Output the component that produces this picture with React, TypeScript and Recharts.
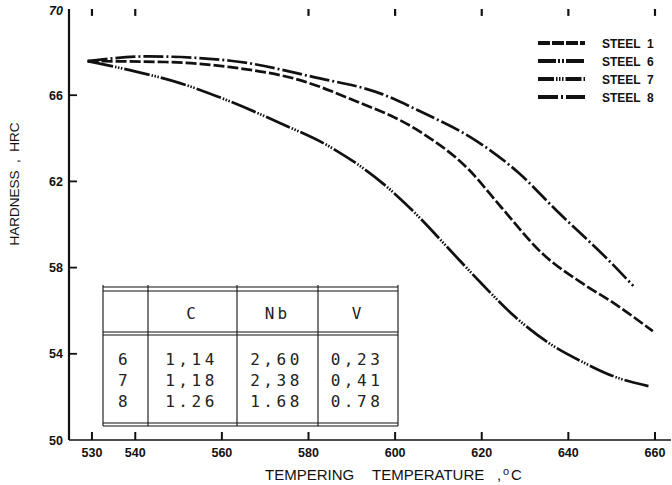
import React from 'react';
import { LineChart, Line, XAxis, YAxis, Legend, ReferenceLine } from 'recharts';

// values
const steel8Temp = [529, 543, 562, 581, 597, 606, 619, 628.5, 637.5, 649, 655];
const steel8Hrc = [67.58, 67.8, 67.6, 66.85, 66.05, 65.23, 63.85, 62.4, 60.6, 58.4, 57.15];

const steel1Temp = [529, 547, 562, 578, 590, 605, 617, 624.5, 634, 643, 650.5, 659.5];
const steel1Hrc = [67.58, 67.54, 67.3, 66.7, 65.8, 64.4, 62.55, 60.8, 58.65, 57.3, 56.35, 55.05];

const steel7Temp = [529, 539, 550.5, 562, 573.5, 585, 597.5, 605.5, 612.5, 620, 627.5, 635.5, 643, 650.5, 658.5];
const steel7Hrc = [67.58, 67.15, 66.55, 65.7, 64.7, 63.6, 61.85, 60.35, 58.85, 57.25, 55.75, 54.5, 53.65, 52.95, 52.5];

const xTicks = [530, 540, 560, 580, 600, 620, 640, 660];
const topTicks = [530, 540, 580, 600, 620, 640, 660];
const yTicks = [50, 54, 58, 62, 66, 70];
const yInnerTicks = [54, 58, 62, 66];

const legendNames = ['STEEL  1', 'STEEL  6', 'STEEL  7', 'STEEL  8'];
const legendDashes = ['12 2', '18 2 2 2 2 2', '16 2 1.5 1.5 1.5 1.5 1.5 2', '20 3 2 3'];

const tableHeader = ['', 'C', 'Nb', 'V'];
const tableRows = [
  ['6', '1,14', '2,60', '0,23'],
  ['7', '1,18', '2,38', '0,41'],
  ['8', '1.26', '1.68', '0.78'],
];

const toPoints = (temps: number[], vals: number[]) => temps.map((t, i) => ({ t, hrc: vals[i] }));
const steel8 = toPoints(steel8Temp, steel8Hrc);
const steel1 = toPoints(steel1Temp, steel1Hrc);
const steel7 = toPoints(steel7Temp, steel7Hrc);

const X_DOMAIN = [524.7, 663.7];
const Y_DOMAIN = [50, 70];
const TOP_TICK_LEN = 0.32;

// plot box, same as the chart margins + axis sizes below
const PLOT = { left: 69, right: 671, top: 9, bottom: 440 };
const sx = (t: number) => PLOT.left + ((t - X_DOMAIN[0]) / (X_DOMAIN[1] - X_DOMAIN[0])) * (PLOT.right - PLOT.left);
const sy = (v: number) => PLOT.top + ((Y_DOMAIN[1] - v) / (Y_DOMAIN[1] - Y_DOMAIN[0])) * (PLOT.bottom - PLOT.top);

const SANS = '"Liberation Sans", Arial, Helvetica, sans-serif';
const MONO = '"DejaVu Sans Mono", monospace';
const INK = '#111';

const BottomTick = ({ x, y, payload }: any) => (
  <text x={x} y={y + 17} textAnchor="middle" fontFamily={SANS} fontWeight="bold" fontSize={12.5} fill={INK}>
    {payload.value}
  </text>
);

const LeftTick = ({ x, y, payload }: any) => (
  <text
    x={x - 6}
    y={y}
    dy={payload.value === 70 ? 6 : 4.5}
    textAnchor="end"
    fontFamily={SANS}
    fontWeight="bold"
    fontStyle={payload.value === 70 ? 'italic' : 'normal'}
    fontSize={12.5}
    fill={INK}
  >
    {payload.value}
  </text>
);

const renderLegend = () => (
  <svg width={130} height={80}>
    {legendNames.map((name, i) => (
      <g key={name} transform={`translate(0, ${9 + i * 18})`}>
        <line x1={3} x2={50} y1={0} y2={0} stroke={INK} strokeWidth={4} strokeDasharray={legendDashes[i]} />
        <text x={67} y={4.5} fontFamily={SANS} fontWeight="bold" fontSize={12} fill={INK} style={{ whiteSpace: 'pre' }}>
          {name}
        </text>
      </g>
    ))}
  </svg>
);

// composition table inset in the lower left
const colX = [103, 148, 237, 318, 398];
const rowBase = [365, 386, 407];

function CompositionTable() {
  const mid = (i: number) => (colX[i] + colX[i + 1]) / 2;
  return (
    <g stroke={INK} strokeWidth={1.1} fill="none">
      {[287, 291, 332, 335, 423, 426].map((y) => (
        <line key={y} x1={colX[0]} x2={colX[4]} y1={y} y2={y} />
      ))}
      {colX.map((x) => (
        <line key={x} x1={x} x2={x} y1={285} y2={426} />
      ))}
      {tableHeader.map((h, i) => (
        <text key={'h' + i} x={mid(i)} y={319} textAnchor="middle" fontFamily={MONO} fontSize={16} fill="#222" stroke="none" letterSpacing={3}>
          {h}
        </text>
      ))}
      {tableRows.map((row, r) =>
        row.map((cell, i) => (
          <text key={r + '-' + i} x={mid(i) - 1} y={rowBase[r]} textAnchor="middle" fontFamily={MONO} fontSize={16} fill="#222" stroke="none" letterSpacing={3.5}>
            {cell}
          </text>
        ))
      )}
    </g>
  );
}

// inward tick marks on the bottom and left axes
function InnerTicks() {
  return (
    <g stroke={INK}>
      {xTicks.map((t) => (
        <line key={'b' + t} x1={sx(t)} x2={sx(t)} y1={PLOT.bottom} y2={PLOT.bottom - 8} strokeWidth={2} />
      ))}
      {yInnerTicks.map((v) => (
        <line key={'l' + v} x1={PLOT.left} x2={PLOT.left + 8} y1={sy(v)} y2={sy(v)} strokeWidth={1.8} />
      ))}
    </g>
  );
}

export default function App() {
  return (
    <div style={{ position: 'absolute', left: 0, top: 0, width: 672, height: 485, background: '#fff' }}>
      <LineChart width={672} height={485} margin={{ top: 9, right: 1, left: 9, bottom: 0 }}>
        <XAxis
          dataKey="t"
          type="number"
          domain={X_DOMAIN}
          ticks={xTicks}
          allowDataOverflow
          height={45}
          axisLine={{ stroke: INK, strokeWidth: 1.6 }}
          tickLine={false}
          tickSize={0}
          tickMargin={0}
          tick={<BottomTick />}
          interval={0}
        />
        <XAxis
          xAxisId="top"
          orientation="top"
          type="number"
          domain={X_DOMAIN}
          allowDataOverflow
          height={0}
          axisLine={{ stroke: INK, strokeWidth: 1.6 }}
          tickLine={false}
          tick={false}
        />
        <YAxis
          type="number"
          domain={Y_DOMAIN}
          ticks={yTicks}
          allowDataOverflow
          width={60}
          axisLine={{ stroke: INK, strokeWidth: 2.2 }}
          tickLine={false}
          tickSize={0}
          tickMargin={0}
          tick={<LeftTick />}
          interval={0}
        />
        <Legend
          layout="vertical"
          align="center"
          verticalAlign="middle"
          content={renderLegend}
          wrapperStyle={{ left: 535, top: 34, width: 130, height: 80 }}
        />
        <Line data={steel8} dataKey="hrc" name="STEEL 8" type="monotone" stroke={INK} strokeWidth={2.7} strokeDasharray="20 3 2 3" dot={false} isAnimationActive={false} />
        <Line data={steel1} dataKey="hrc" name="STEEL 1" type="monotone" stroke={INK} strokeWidth={2.7} strokeDasharray="11 3" dot={false} isAnimationActive={false} />
        <Line data={steel7} dataKey="hrc" name="STEEL 7" type="monotone" stroke={INK} strokeWidth={2.7} strokeDasharray="26 2 1.5 1.5 1.5 1.5 1.5 2" dot={false} isAnimationActive={false} />
        {topTicks.map((t) => (
          <ReferenceLine key={'t' + t} segment={[{ x: t, y: Y_DOMAIN[1] }, { x: t, y: Y_DOMAIN[1] - TOP_TICK_LEN }]} stroke={INK} strokeWidth={2.2} ifOverflow="visible" />
        ))}
      </LineChart>
      <svg width={672} height={485} style={{ position: 'absolute', left: 0, top: 0, pointerEvents: 'none' }}>
        <InnerTicks />
        <CompositionTable />
        <text
          transform="translate(19, 184) rotate(-90)"
          textAnchor="middle"
          fontFamily={SANS}
          fontSize={13.5}
          fill={INK}
          style={{ whiteSpace: 'pre' }}
        >
          {'HARDNESS  ,  HRC'}
        </text>
        <text x={265} y={480} fontFamily={SANS} fontSize={15} fill={INK}>TEMPERING</text>
        <text x={372} y={480} fontFamily={SANS} fontSize={15} fill={INK}>TEMPERATURE</text>
        <text x={497} y={480} fontFamily={SANS} fontSize={15} fill={INK}>,</text>
        <text x={503} y={475} fontFamily={SANS} fontSize={11} fill={INK}>o</text>
        <text x={511} y={480} fontFamily={SANS} fontSize={15} fill={INK}>C</text>
      </svg>
    </div>
  );
}
